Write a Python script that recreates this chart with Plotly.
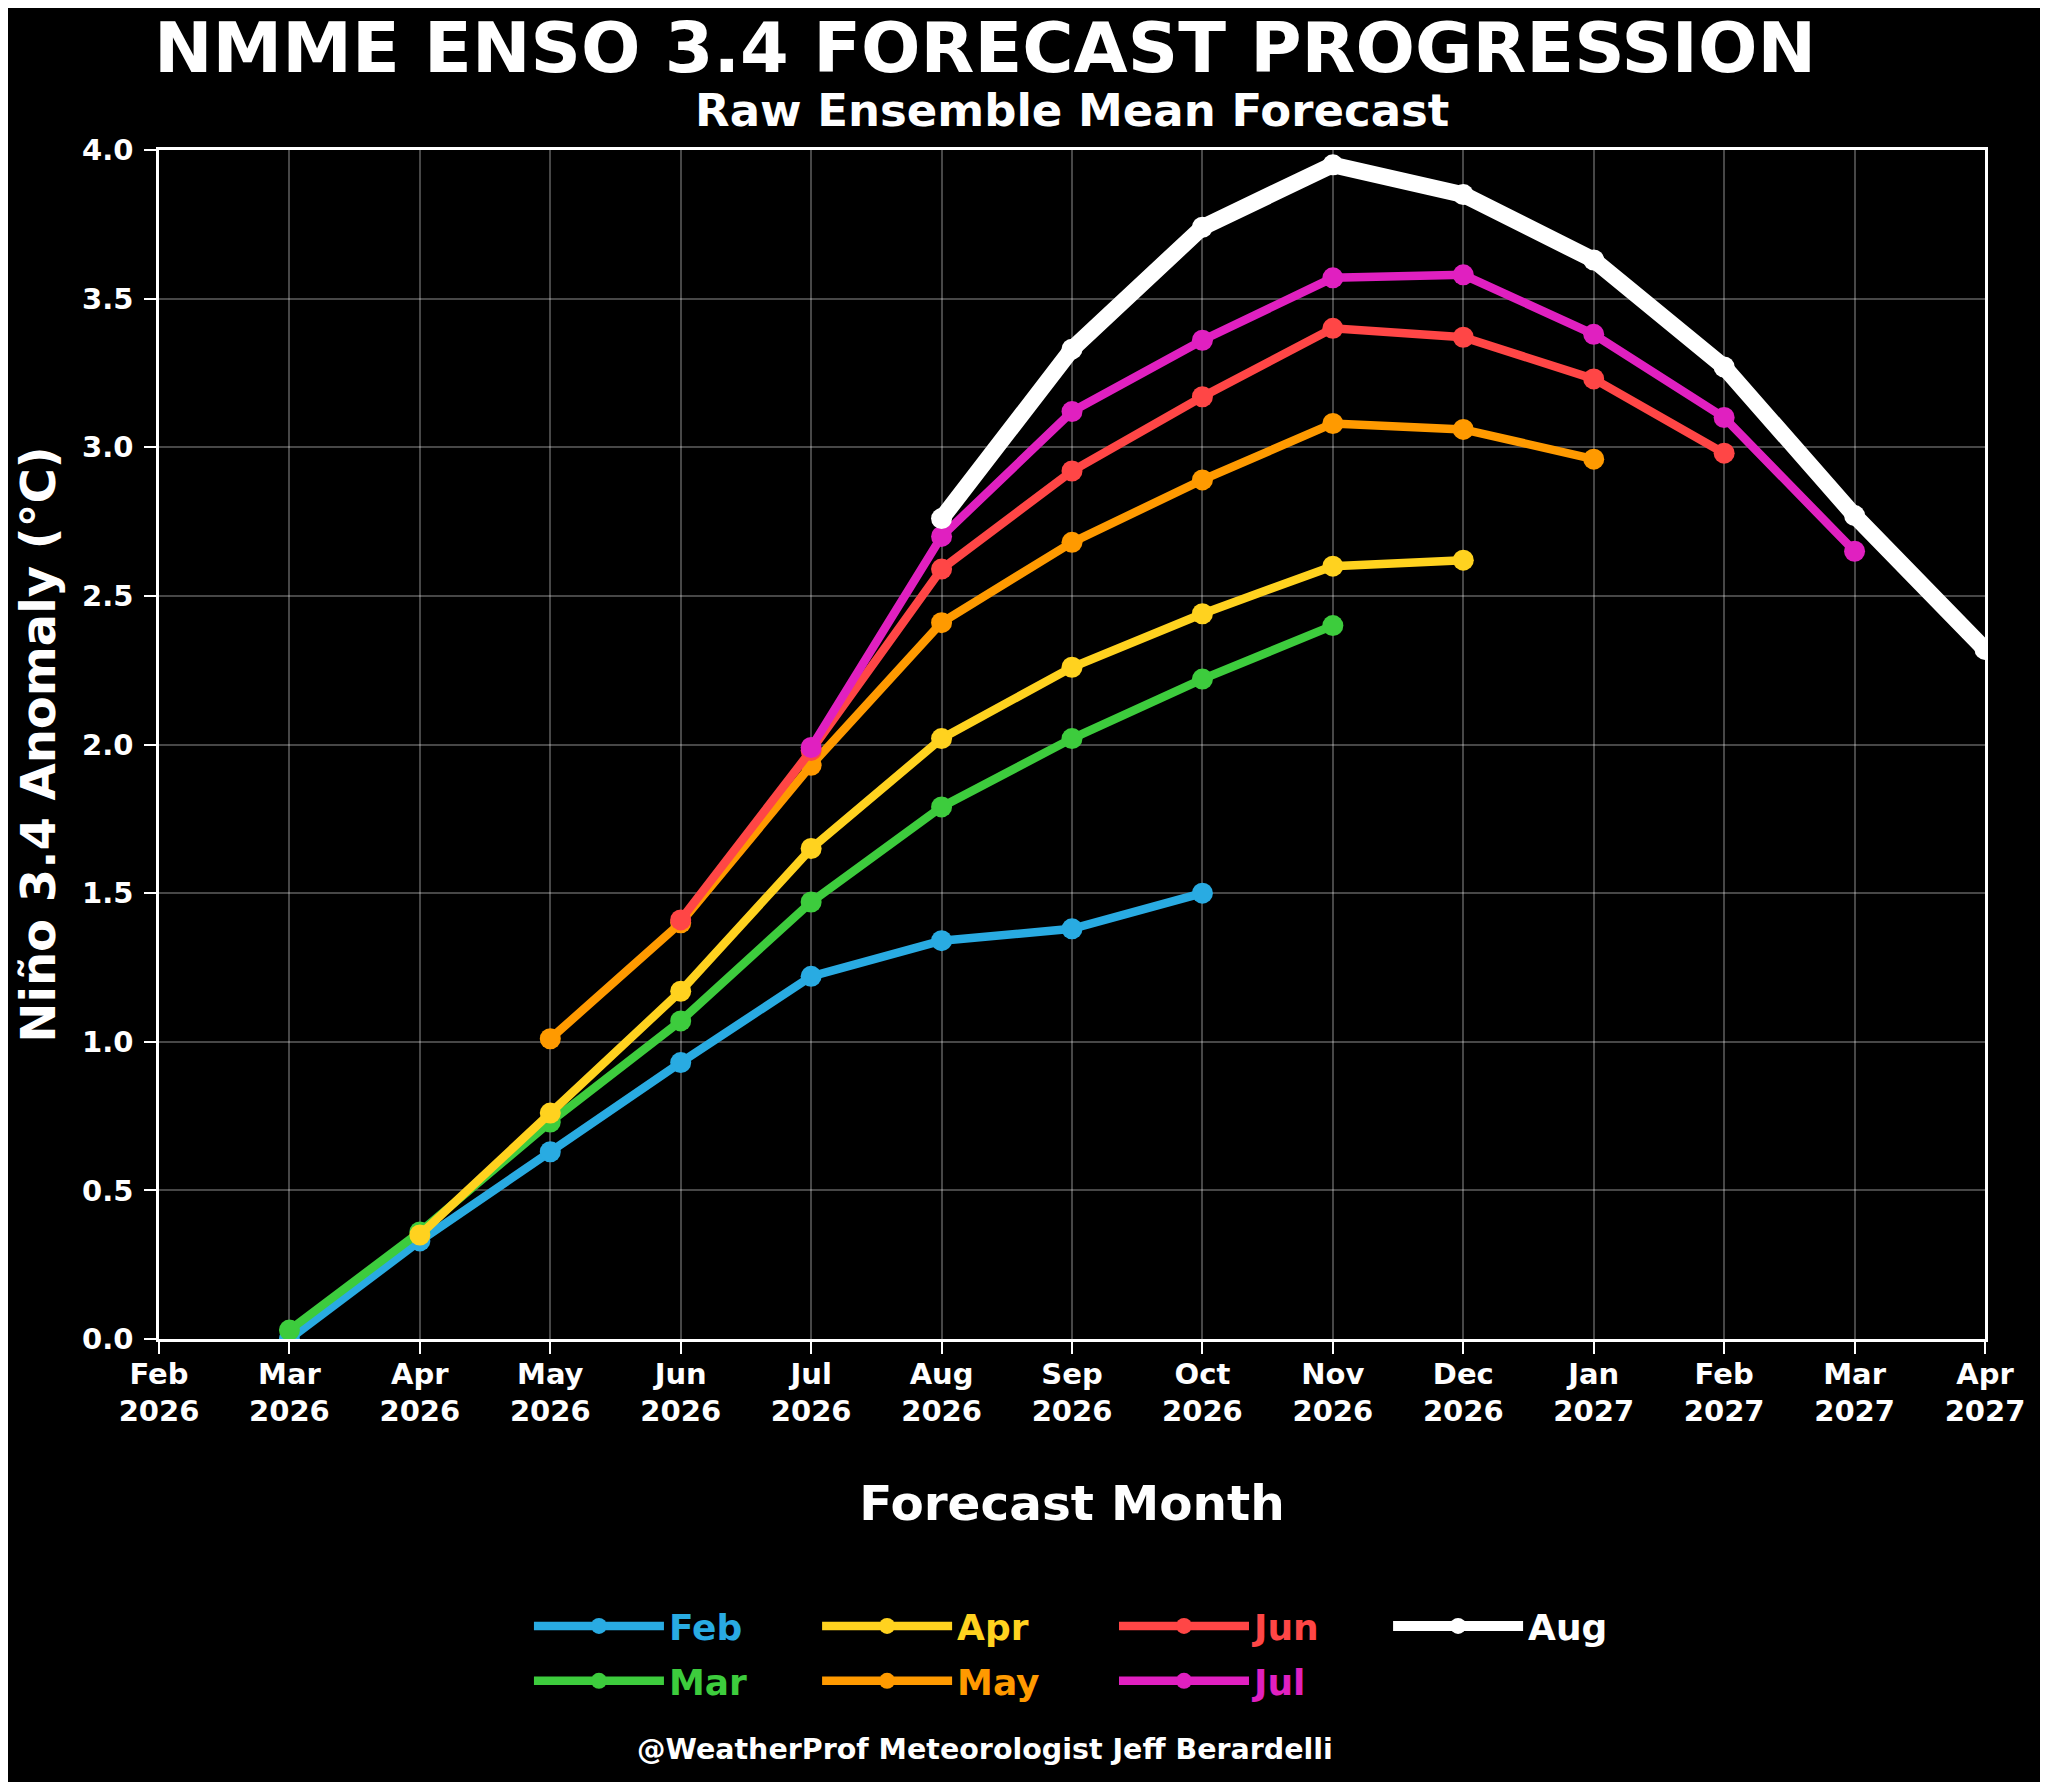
import plotly.graph_objects as go

# ---- data ----
month_labels = ["Feb", "Mar", "Apr", "May", "Jun", "Jul", "Aug", "Sep", "Oct",
                "Nov", "Dec", "Jan", "Feb", "Mar", "Apr"]
year_labels = ["2026"] * 11 + ["2027"] * 4
categories = [f"{m}<br>{y}" for m, y in zip(month_labels, year_labels)]

series_names = ["Feb", "Mar", "Apr", "May", "Jun", "Jul", "Aug"]
# index (into categories) of the first forecast month of each run
series_start = [1, 1, 2, 3, 4, 5, 6]

feb_vals = [0.00, 0.33, 0.63, 0.93, 1.22, 1.34, 1.38, 1.50]
mar_vals = [0.03, 0.36, 0.73, 1.07, 1.47, 1.79, 2.02, 2.22, 2.40]
apr_vals = [0.35, 0.76, 1.17, 1.65, 2.02, 2.26, 2.44, 2.60, 2.62]
may_vals = [1.01, 1.40, 1.93, 2.41, 2.68, 2.89, 3.08, 3.06, 2.96]
jun_vals = [1.41, 1.98, 2.59, 2.92, 3.17, 3.40, 3.37, 3.23, 2.98]
jul_vals = [1.99, 2.70, 3.12, 3.36, 3.57, 3.58, 3.38, 3.10, 2.65]
aug_vals = [2.76, 3.33, 3.74, 3.95, 3.85, 3.63, 3.27, 2.77, 2.32]

series_values = [feb_vals, mar_vals, apr_vals, may_vals, jun_vals, jul_vals, aug_vals]

y_tick_vals = [0.0, 0.5, 1.0, 1.5, 2.0, 2.5, 3.0, 3.5, 4.0]

# ---- styling ----
colors = ["#29abe2", "#3dcc3d", "#ffd21f", "#ff9a00", "#ff4646", "#e020c0", "#ffffff"]
line_widths = [8.5, 8.5, 8.5, 8.5, 8.5, 8.5, 16.5]
marker_sizes = [21, 21, 21, 21, 21, 21, 21]
FONT = "DejaVu Sans"

# legend grid (column-major: Feb/Mar, Apr/May, Jun/Jul, Aug)
legend_cols = [0, 0, 1, 1, 2, 2, 3]
legend_rows = [0, 1, 0, 1, 0, 1, 0]
col_x = [0.2026, 0.3604, 0.523, 0.6731]
row_y = [-0.2414, -0.2876]

fig = go.Figure()
layout_legends = {}
for i, (name, start, vals) in enumerate(zip(series_names, series_start, series_values)):
    leg_id = "legend" if i == 0 else f"legend{i + 1}"
    fig.add_trace(go.Scatter(
        x=categories[start:start + len(vals)],
        y=vals,
        mode="lines+markers",
        name=name,
        line=dict(color=colors[i], width=line_widths[i]),
        marker=dict(color=colors[i], size=marker_sizes[i]),
        legend=leg_id,
    ))
    layout_legends[leg_id] = dict(
        x=col_x[legend_cols[i]], y=row_y[legend_rows[i]],
        xanchor="left", yanchor="middle",
        xref="paper", yref="paper",
        bgcolor="rgba(0,0,0,0)",
        itemwidth=130,
        font=dict(family=FONT, size=36, color=colors[i], weight="bold"),
    )

axis_common = dict(
    showline=True, linecolor="white", linewidth=2.5, mirror=True,
    ticks="outside", ticklen=12, tickwidth=2, tickcolor="white",
    showgrid=True, gridcolor="rgba(255,255,255,0.28)", gridwidth=1.5,
    zeroline=False,
    tickfont=dict(family=FONT, size=29, color="white", weight="bold"),
)

fig.update_layout(
    width=2048, height=1782,
    margin=dict(l=151, r=71, t=142, b=451),
    paper_bgcolor="black", plot_bgcolor="black",
    showlegend=True,
    xaxis=dict(
        type="category", categoryorder="array", categoryarray=categories,
        range=[0, len(categories) - 1],
        ticklabelstandoff=-5,
        title=dict(text="Forecast Month", standoff=59,
                   font=dict(family=FONT, size=48.5, color="white", weight="bold")),
        **axis_common,
    ),
    yaxis=dict(
        range=[0, 4], tickvals=y_tick_vals, tickformat=".1f",
        ticklabelstandoff=5,
        title=dict(text="Niño 3.4 Anomaly (°C)", standoff=12,
                   font=dict(family=FONT, size=48, color="white", weight="bold")),
        **axis_common,
    ),
    annotations=[
        dict(text="NMME ENSO 3.4 FORECAST PROGRESSION", x=0.4524, y=1.0855,
             xref="paper", yref="paper", xanchor="center", yanchor="middle",
             showarrow=False,
             font=dict(family=FONT, size=70, color="white", weight="bold")),
        dict(text="Raw Ensemble Mean Forecast", x=0.5, y=1.033,
             xref="paper", yref="paper", xanchor="center", yanchor="middle",
             showarrow=False,
             font=dict(family=FONT, size=45, color="white", weight="bold")),
        dict(text="@WeatherProf Meteorologist Jeff Berardelli", x=0.4524, y=-0.345,
             xref="paper", yref="paper", xanchor="center", yanchor="middle",
             showarrow=False,
             font=dict(family=FONT, size=28.5, color="white", weight="bold")),
    ],
    **layout_legends,
)

fig.write_html("out.html")
